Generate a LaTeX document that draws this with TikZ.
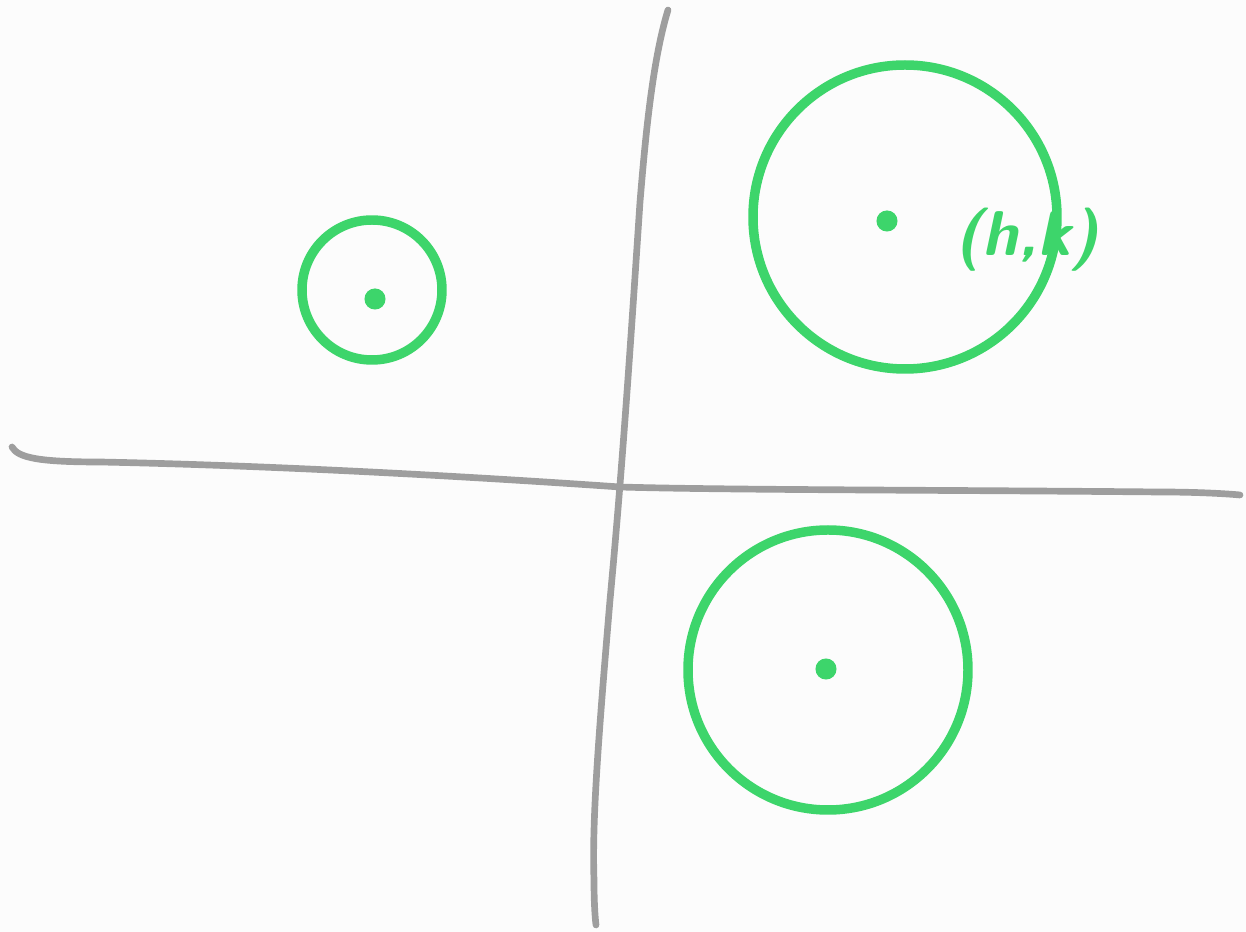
\documentclass[tikz,border=0pt]{standalone}
\usepackage{tikz}
\usetikzlibrary{positioning}
\usepackage{xcolor}
\definecolor{penGreen}{HTML}{3DD56B}
\definecolor{penGray}{HTML}{9E9E9E}
\definecolor{paper}{HTML}{FCFCFC}

\begin{document}
\begin{tikzpicture}[line cap=round,line join=round,
  axisline/.style={penGray,line width=1.9pt},
  ring/.style={draw=penGreen,line width=2.7pt,circle,inner sep=0pt},
  centerdot/.style={fill=penGreen,circle,inner sep=0pt,minimum size=6pt}]
\fill[paper] (0,0) rectangle (12.46,9.32);
\useasboundingbox (0,0) rectangle (12.46,9.32);
% axes
\draw[axisline] (6.68,9.22) .. controls (6.52,8.7) and (6.45,7.9) .. (6.40,7.30)
  .. controls (6.30,5.8) and (6.22,4.6) .. (6.10,3.32)
  .. controls (5.98,1.9) and (5.92,1.1) .. (5.94,0.52)
  .. controls (5.94,0.3) and (5.95,0.15) .. (5.96,0.07);
\draw[axisline] (0.12,4.85) .. controls (0.18,4.74) and (0.4,4.70) .. (1.00,4.70)
  .. controls (3.0,4.66) and (5.2,4.52) .. (6.20,4.45)
  .. controls (7.2,4.42) and (9.5,4.42) .. (11.60,4.40)
  .. controls (12.0,4.40) and (12.3,4.38) .. (12.40,4.37);
% circles
\node[ring,minimum size=1.40cm] (small) at (3.72,6.42) {};
\node[ring,minimum size=3.04cm] (big) at (9.05,7.15) {};
\node[ring,minimum size=2.80cm] (low) at (8.28,2.62) {};
\node[centerdot] (smalldot) at (3.75,6.33) {};
\node[centerdot] (bigdot) at (8.87,7.11) {};
\node[centerdot] (lowdot) at (8.26,2.63) {};
\node[penGreen,font=\sffamily\itshape\bfseries,scale=1.8] (hk) at (10.27,6.92) {(h,k)};
\end{tikzpicture}
\end{document}
